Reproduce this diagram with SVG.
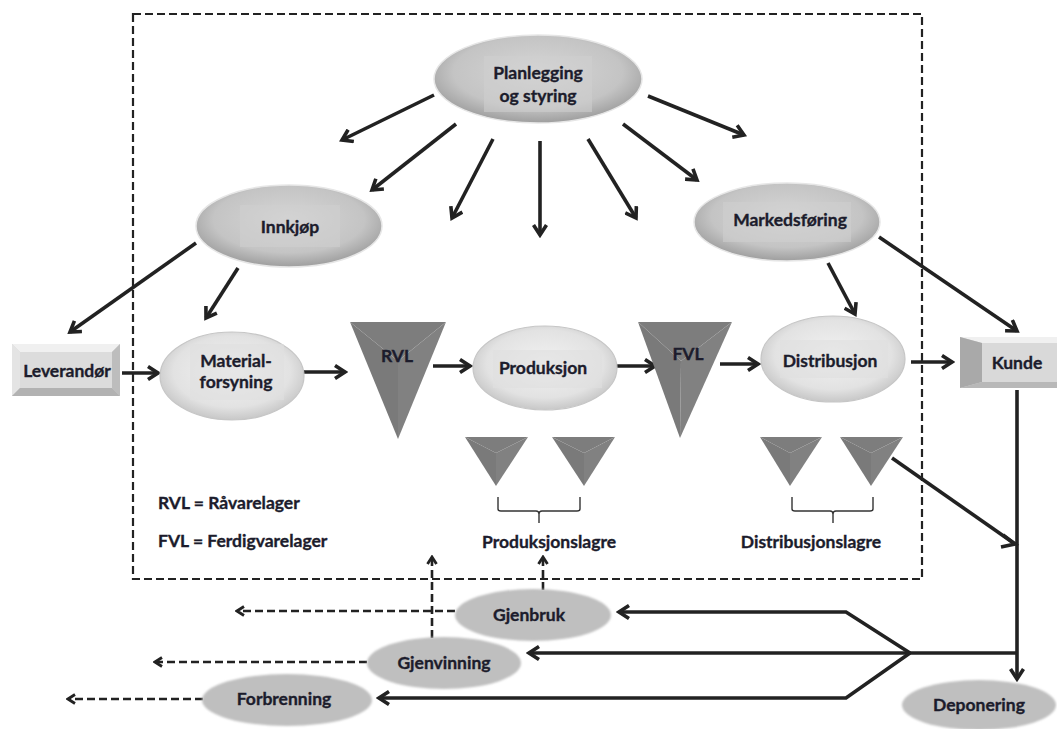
<svg xmlns="http://www.w3.org/2000/svg" width="1057" height="729" viewBox="0 0 1057 729">
  <defs>
    <radialGradient id="gTop" cx="50%" cy="42%" r="58%">
      <stop offset="0" stop-color="#d6d6d6"/>
      <stop offset="0.7" stop-color="#c4c4c4"/>
      <stop offset="1" stop-color="#9e9e9e"/>
    </radialGradient>
    <radialGradient id="gMid" cx="50%" cy="45%" r="58%">
      <stop offset="0" stop-color="#f2f2f2"/>
      <stop offset="0.7" stop-color="#e2e2e2"/>
      <stop offset="1" stop-color="#c2c2c2"/>
    </radialGradient>
    <filter id="soft" x="-10%" y="-10%" width="120%" height="120%">
      <feGaussianBlur stdDeviation="0.8"/>
    </filter>
    <filter id="softTri" x="-10%" y="-10%" width="120%" height="120%">
      <feGaussianBlur stdDeviation="0.6"/>
    </filter>
    <marker id="ah" viewBox="0 0 16 16" refX="13" refY="8" markerWidth="16" markerHeight="16" markerUnits="userSpaceOnUse" orient="auto">
      <path d="M3,1.5 L13,8 L3,14.5" fill="none" stroke="#222" stroke-width="3.6" stroke-linejoin="miter"/>
    </marker>
    <marker id="ahs" viewBox="0 0 12 12" refX="10" refY="6" markerWidth="12" markerHeight="12" markerUnits="userSpaceOnUse" orient="auto">
      <path d="M3,1.5 L10,6 L3,10.5" fill="none" stroke="#222" stroke-width="2.8"/>
    </marker>
  </defs>
  <style>
    .t { font-family: Lato, "Open Sans", "Liberation Sans", sans-serif; font-weight: bold; font-size: 17.5px; fill: #1c1c2c; stroke: #1c1c2c; stroke-width: 0.35; text-anchor: middle; }
    .tl { text-anchor: start; }
    .ell-top { fill: url(#gTop); stroke: #e6e6e6; stroke-width: 1.5; }
    .ell-mid { fill: url(#gMid); stroke: #c6c6c6; stroke-width: 1.2; }
    .ell-low { fill: #bfbfbf; filter: url(#soft); }
    .tbox-top { fill: #d0d0d0; opacity: 0.55; }
    .tbox-mid { fill: #e0e0e0; opacity: 0.6; }
    .tri { filter: url(#softTri); }
    .fl { fill: #7a7a7a; }
    .fr { fill: #818181; }
    .ft { fill: #7d7d7d; }
    .ln { fill: none; stroke: #222; stroke-width: 3.6; }
    .ar { fill: none; stroke: #222; stroke-width: 3.6; marker-end: url(#ah); }
    .da { fill: none; stroke: #222; stroke-width: 2.6; stroke-dasharray: 8 4; marker-end: url(#ahs); }
    .brace { fill: none; stroke: #333; stroke-width: 1.4; }
  </style>

  <rect width="1057" height="729" fill="#ffffff"/>

  <!-- system boundary -->
  <rect id="boundary" x="133" y="14" width="789" height="565" fill="none" stroke="#222" stroke-width="2.2" stroke-dasharray="8 4"/>

  <g id="connectors">
    <!-- from planning outwards -->
    <line class="ar" x1="434" y1="95" x2="342" y2="140"/>
    <line class="ar" x1="456" y1="124" x2="372" y2="190"/>
    <line class="ar" x1="493" y1="139" x2="452" y2="218"/>
    <line class="ar" x1="540" y1="141" x2="540" y2="235"/>
    <line class="ar" x1="588" y1="139" x2="636" y2="218"/>
    <line class="ar" x1="623" y1="124" x2="697" y2="180"/>
    <line class="ar" x1="648" y1="96" x2="744" y2="135"/>
    <!-- purchasing -->
    <line class="ar" x1="196" y1="243" x2="70" y2="332"/>
    <line class="ar" x1="238" y1="268" x2="206" y2="318"/>
    <!-- marketing -->
    <line class="ar" x1="828" y1="263" x2="855" y2="314"/>
    <line class="ar" x1="879" y1="237" x2="1017" y2="331"/>
    <!-- main flow -->
    <line class="ar" x1="122" y1="373" x2="158" y2="373"/>
    <line class="ar" x1="286" y1="372" x2="345" y2="372"/>
    <line class="ar" x1="433" y1="366" x2="470" y2="366"/>
    <line class="ar" x1="616" y1="366" x2="655" y2="366"/>
    <line class="ar" x1="720" y1="364" x2="758" y2="364"/>
    <line class="ar" x1="911" y1="362" x2="952" y2="362"/>
    <!-- customer to disposal -->
    <line class="ar" x1="1017" y1="390" x2="1017" y2="679"/>
    <line class="ln" x1="892" y1="458" x2="1015" y2="544"/>
    <path d="M1003,535 L1015,544 L1001,547" fill="none" stroke="#222" stroke-width="3.6"/>
    <!-- return flows -->
    <line class="ln" x1="1017" y1="653" x2="910" y2="653"/>
    <polyline class="ar" points="910,653 846,612 619,612"/>
    <line class="ar" x1="910" y1="653" x2="529" y2="653"/>
    <polyline class="ar" points="910,653 846,698 379,698"/>
    <!-- dashed outflows -->
    <line class="da" x1="455" y1="611" x2="237" y2="611"/>
    <line class="da" x1="367" y1="662" x2="155" y2="662"/>
    <line class="da" x1="203" y1="699" x2="68" y2="699"/>
    <line class="da" x1="432" y1="638" x2="432" y2="557"/>
    <line class="da" x1="543" y1="590" x2="543" y2="557"/>
  </g>

  <g id="planlegging">
    <ellipse class="ell-top" cx="538" cy="79" rx="104" ry="44"/>
    <rect class="tbox-top" x="484" y="56" width="108" height="56"/>
    <text class="t" x="538" y="79">Planlegging</text>
    <text class="t" x="538" y="102">og styring</text>
  </g>

  <g id="innkjop">
    <ellipse class="ell-top" cx="289" cy="226" rx="93" ry="41"/>
    <rect class="tbox-top" x="240" y="205" width="100" height="42"/>
    <text class="t" x="290" y="233">Innkjøp</text>
  </g>

  <g id="markedsforing">
    <ellipse class="ell-top" cx="787" cy="222" rx="93" ry="39"/>
    <rect class="tbox-top" x="723" y="202" width="128" height="40"/>
    <text class="t" x="790" y="226">Markedsføring</text>
  </g>

  <g id="leverandor">
    <rect x="12" y="344" width="108" height="52" fill="#d4d4d4"/>
    <polygon points="12,344 120,344 112,352 20,352" fill="#f0f0f0"/>
    <polygon points="12,344 20,352 20,388 12,396" fill="#e4e4e4"/>
    <polygon points="120,344 120,396 112,388 112,352" fill="#bdbdbd"/>
    <polygon points="12,396 20,388 112,388 120,396" fill="#b2b2b2"/>
    <rect x="20" y="352" width="92" height="36" fill="#dcdcdc"/>
    <text class="t" x="67" y="377">Leverandør</text>
  </g>

  <g id="materialforsyning">
    <ellipse class="ell-mid" cx="232" cy="376" rx="72" ry="44"/>
    <rect class="tbox-mid" x="190" y="344" width="94" height="56"/>
    <text class="t" x="236" y="367">Material-</text>
    <text class="t" x="236" y="388">forsyning</text>
  </g>

  <g id="rvl">
    <g class="tri">
      <polygon class="ft" points="350,322 446,322 398,361"/>
      <polygon class="fl" points="350,322 398,361 398,439"/>
      <polygon class="fr" points="446,322 398,439 398,361"/>
    </g>
    <text class="t" x="397" y="362">RVL</text>
  </g>

  <g id="produksjon">
    <ellipse class="ell-mid" cx="545" cy="368" rx="72" ry="42"/>
    <rect class="tbox-mid" x="493" y="350" width="109" height="38"/>
    <text class="t" x="543" y="374">Produksjon</text>
  </g>

  <g id="fvl">
    <g class="tri">
      <polygon class="ft" points="638,322 732,322 681,361"/>
      <polygon class="fl" points="638,322 681,361 680,438"/>
      <polygon class="fr" points="732,322 680,438 681,361"/>
    </g>
    <text class="t" x="688" y="360">FVL</text>
  </g>

  <g id="distribusjon">
    <ellipse class="ell-mid" cx="833" cy="359" rx="72" ry="43"/>
    <rect class="tbox-mid" x="780" y="340" width="108" height="38"/>
    <text class="t" x="830" y="367">Distribusjon</text>
  </g>

  <g id="kunde">
    <rect x="960" y="337" width="100" height="51" fill="#d2d2d2"/>
    <polygon points="960,337 1060,337 1060,343 982,343" fill="#f0f0f0"/>
    <polygon points="960,337 982,343 982,382 960,388" fill="#a9a9a9"/>
    <polygon points="960,388 982,382 1060,382 1060,388" fill="#b8b8b8"/>
    <rect x="982" y="343" width="78" height="39" fill="#d9d9d9"/>
    <text class="t" x="1017" y="369">Kunde</text>
  </g>

  <g id="produksjonslagre">
    <g class="tri">
      <polygon class="ft" points="465,437 528,437 496,453"/>
      <polygon class="fl" points="465,437 496,453 496,486"/>
      <polygon class="fr" points="528,437 496,486 496,453"/>
    </g>
    <g class="tri">
      <polygon class="ft" points="552,437 615,437 584,453"/>
      <polygon class="fl" points="552,437 584,453 584,486"/>
      <polygon class="fr" points="615,437 584,486 584,453"/>
    </g>
    <path class="brace" d="M498,497 L498,509 Q498,511 501,511 L536,511 Q539,511 539,514 L539,523 M539,514 Q539,511 542,511 L577,511 Q580,511 580,509 L580,497"/>
    <text class="t" x="549" y="548">Produksjonslagre</text>
  </g>

  <g id="distribusjonslagre">
    <g class="tri">
      <polygon class="ft" points="760,437 822,437 790,453"/>
      <polygon class="fl" points="760,437 790,453 790,486"/>
      <polygon class="fr" points="822,437 790,486 790,453"/>
    </g>
    <g class="tri">
      <polygon class="ft" points="840,437 903,437 871,453"/>
      <polygon class="fl" points="840,437 871,453 871,486"/>
      <polygon class="fr" points="903,437 871,486 871,453"/>
    </g>
    <path class="brace" d="M792,497 L792,509 Q792,511 795,511 L830,511 Q833,511 833,514 L833,523 M833,514 Q833,511 836,511 L870,511 Q873,511 873,509 L873,497"/>
    <text class="t" x="811" y="548">Distribusjonslagre</text>
  </g>

  <g id="legend">
    <text class="t tl" x="158" y="509">RVL = Råvarelager</text>
    <text class="t tl" x="158" y="547">FVL = Ferdigvarelager</text>
  </g>

  <g id="gjenbruk">
    <ellipse class="ell-low" cx="533" cy="615" rx="78" ry="26"/>
    <text class="t" x="529" y="621">Gjenbruk</text>
  </g>

  <g id="gjenvinning">
    <ellipse class="ell-low" cx="444" cy="663" rx="77" ry="26"/>
    <text class="t" x="444" y="669">Gjenvinning</text>
  </g>

  <g id="forbrenning">
    <ellipse class="ell-low" cx="287" cy="700" rx="85" ry="26"/>
    <text class="t" x="284" y="705">Forbrenning</text>
  </g>

  <g id="deponering">
    <ellipse class="ell-low" cx="979" cy="705" rx="77" ry="25"/>
    <text class="t" x="979" y="711">Deponering</text>
  </g>
</svg>
